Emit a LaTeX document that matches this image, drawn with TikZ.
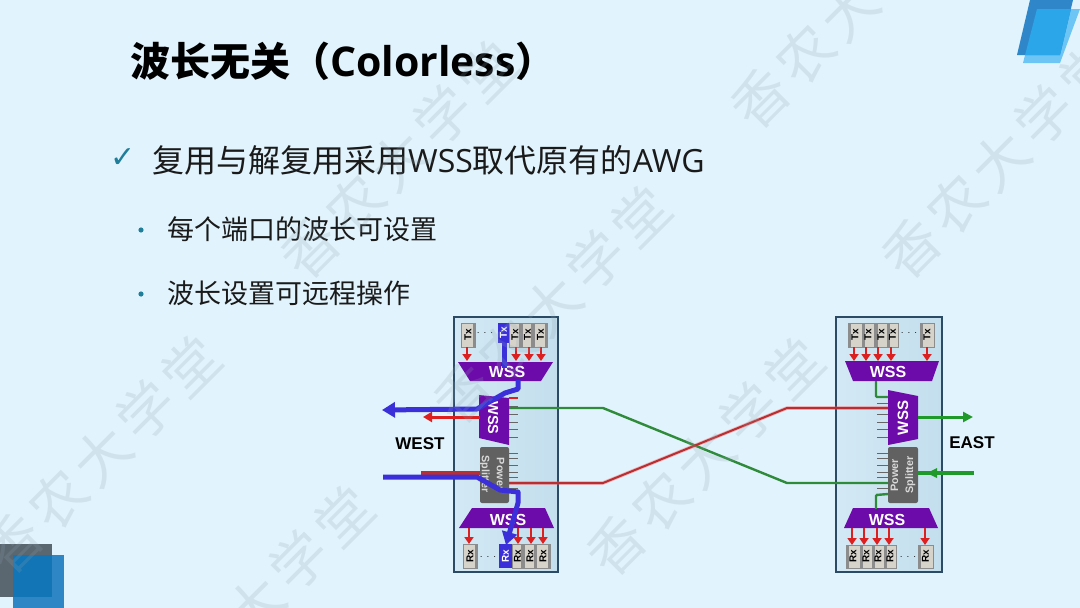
\documentclass[tikz,border=0pt]{standalone}
\usepackage{fontspec}
\usepackage{graphicx}
\usetikzlibrary{arrows.meta}
\setmainfont{Liberation Sans}
\newfontfamily\cjk{Noto Sans CJK SC}
\newfontfamily\wmf[LetterSpace=12]{Noto Sans CJK SC}
\newfontfamily\lat{Open Sans}
\newfontfamily\djv{DejaVu Sans}
\definecolor{bgc}{HTML}{E1F3FC}
\definecolor{ink}{HTML}{1A1A1A}
\definecolor{tealc}{HTML}{1F7F9B}
\definecolor{purp}{HTML}{6C0BA9}
\definecolor{blu}{HTML}{3A2FD8}
\definecolor{redc}{HTML}{DE1F1F}
\definecolor{wirer}{HTML}{B92E30}
\definecolor{wireg}{HTML}{2E8B3A}
\definecolor{arrg}{HTML}{1F9A2A}
\definecolor{panelb}{HTML}{2B4A66}
\definecolor{devc}{HTML}{D6D3CB}
\definecolor{cornerb}{HTML}{2E86C4}
\definecolor{cornerbb}{HTML}{1275B5}
\definecolor{cornerg}{HTML}{5A6670}
\definecolor{cornerl}{HTML}{6CC5F5}
\definecolor{cornerm}{HTML}{2F86C8}
\definecolor{cornern}{HTML}{2BA6E8}
\definecolor{panell}{HTML}{D3E9F5}
\definecolor{panelr}{HTML}{C3DEED}
\definecolor{wmc}{HTML}{8FA6B2}
\tikzset{
  wm/.style={font=\wmf\fontsize{56}{56}\selectfont,text=wmc,opacity=.2,rotate=45,inner sep=0},
  titlet/.style={anchor=west,inner sep=0,text=black},
  bodyt/.style={anchor=west,inner sep=0,text=ink},
  panel/.style={draw=panelb,line width=1.6pt,left color=panell,right color=panelr},
  wssfill/.style={fill=purp},
  wsst/.style={font=\bfseries\fontsize{16}{16}\selectfont,text=white,inner sep=0},
  splt/.style={fill=black!62,rounded corners=2pt},
  splitt/.style={font=\bfseries\fontsize{10.8}{15}\selectfont,text=black!15,align=center,inner sep=0},
  devbase/.style={draw=black!45,line width=.5pt,fill=devc,inner sep=0,font=\bfseries\fontsize{10}{10}\selectfont},
  dev/.style={devbase,path picture={\fill[black!45] (path picture bounding box.north east) rectangle ([xshift=-2.5pt]path picture bounding box.south east);}},
  devr/.style={devbase,path picture={\fill[black!45] (path picture bounding box.north west) rectangle ([xshift=2.5pt]path picture bounding box.south west);}},
  devb/.style={fill=blu,inner sep=0,text=white,font=\bfseries\fontsize{10}{10}\selectfont},
  dotst/.style={font=\bfseries\fontsize{10}{10}\selectfont,inner sep=0},
  redarr/.style={draw=redc,line width=2.2pt,-{Triangle[length=7pt,width=9pt]}},
  blueln/.style={draw=blu,line width=5pt,line join=round},
  comb/.style={draw=black!60,line width=1pt},
  wirered/.style={draw=wirer,line width=2pt,line join=round},
  wirehalo/.style={draw=red!70!white,line width=3.6pt,opacity=.35,line join=round},
  wiregreen/.style={draw=wireg,line width=2.4pt,line join=round},
  labt/.style={font=\bfseries\fontsize{17}{17}\selectfont,text=black,inner sep=0}
}
\newcommand{\devnode}[7]{% name x1 x2 y1 y2 label style
  \pgfmathsetmacro\cxx{(#2+#3)/2}\pgfmathsetmacro\cyy{(#4+#5)/2}
  \pgfmathsetmacro\www{#3-#2}\pgfmathsetmacro\hhh{#5-#4}
  \node[#7,minimum width=\www pt,minimum height=\hhh pt] (#1) at (\cxx,\cyy) {\rotatebox{90}{#6}};
}
\begin{document}
\begin{tikzpicture}[x=1pt,y=-1pt]
\useasboundingbox (0,0) rectangle (1080,608);
\fill[bgc] (0,0) rectangle (1080,608);
% corner art
\fill[cornerg] (0,544) rectangle (52,597);
\fill[cornerb] (13,555) rectangle (64,608);
\fill[cornerbb] (13,555) rectangle (52,597);
\fill[cornerl] (1023,63) -- (1060,63) -- (1080,9) -- (1037,9) -- cycle;
\fill[cornerm] (1017,55) -- (1030,0) -- (1073,0) -- (1060,55) -- cycle;
\begin{scope}
\clip (1017,55) -- (1030,0) -- (1073,0) -- (1060,55) -- cycle;
\fill[cornern] (1023,63) -- (1060,63) -- (1080,9) -- (1037,9) -- cycle;
\end{scope}
% texts
\node[titlet] (title) at (130,61) {\cjk\bfseries\fontsize{40}{40}\selectfont 波长无关（{\lat\fontsize{41}{41}\selectfont Colorless}）};
\node[inner sep=0,text=tealc] (chk) at (123,158) {\djv\fontsize{30}{30}\selectfont ✓};
\node[bodyt] (l1) at (152,160) {\cjk\fontsize{32}{32}\selectfont 复用与解复用采用{\lat WSS}取代原有的{\lat AWG}};
\fill[tealc] (141,230) circle (2.6pt);
\fill[tealc] (141,294) circle (2.6pt);
\node[bodyt] (l2) at (167,229) {\cjk\fontsize{27}{27}\selectfont 每个端口的波长可设置};
\node[bodyt] (l3) at (167,293) {\cjk\fontsize{27}{27}\selectfont 波长设置可远程操作};
% panels
\draw[panel] (454,317) rectangle (558,572);
\draw[panel] (836,317) rectangle (942,572);
% --- left panel devices
\devnode{ltx1}{461}{475}{323}{347}{Tx}{dev}
\devnode{ltx2}{498}{509}{323}{343}{Tx}{devb}
\devnode{ltx3}{509}{521}{323}{347}{Tx}{dev}
\devnode{ltx4}{522}{533}{323}{347}{Tx}{dev}
\devnode{ltx5}{534}{547}{323}{347}{Tx}{dev}
\node[dotst] (ld1) at (485,333) {$\cdot\,\cdot\,\cdot$};
\devnode{lrx1}{463}{477}{544}{568}{Rx}{dev}
\devnode{lrx2}{499}{512}{544}{568}{Rx}{devb}
\devnode{lrx3}{512}{523}{544}{568}{Rx}{dev}
\devnode{lrx4}{524}{536}{544}{568}{Rx}{dev}
\devnode{lrx5}{536}{550}{544}{568}{Rx}{dev}
\node[dotst] (ld2) at (488,557) {$\cdot\,\cdot\,\cdot$};
% --- left shapes
\fill[wssfill] (458,362) -- (553,362) -- (541,381) -- (470,381) -- cycle;
\fill[wssfill] (459,528) -- (472,508) -- (545,508) -- (554,528) -- cycle;
\fill[wssfill] (479,395) -- (509,398) -- (509,445) -- (479,438) -- cycle;
\fill[splt] (480,447) rectangle (509,503);
\node[wsst] (lw1) at (507,372) {WSS};
\node[wsst] (lw3) at (508,520) {WSS};
\node[wsst,rotate=-90,font=\bfseries\fontsize{14.5}{14.5}\selectfont] (lw2) at (493,418) {WSS};
\node[splitt,rotate=-90] (ls) at (492,474) {Power\\Splitter};
\foreach \y in {406,414,422,429,437,453,458,465,472,477,488} \draw[comb] (509,\y) -- (518,\y);
\draw[redc,line width=1.2pt] (509,398) -- (518,398);
\foreach \x in {467,516,529,541} \draw[redarr] (\x,347) -- (\x,361);
\foreach \x in {469,518,531,543} \draw[redarr] (\x,528) -- (\x,544);
% --- right panel devices
\devnode{rtx1}{848}{862}{323}{347}{Tx}{devr}
\devnode{rtx2}{862}{874}{323}{347}{Tx}{devr}
\devnode{rtx3}{875}{887}{323}{347}{Tx}{devr}
\devnode{rtx4}{887}{898}{323}{347}{Tx}{devr}
\devnode{rtx5}{920}{934}{323}{347}{Tx}{devr}
\node[dotst] (rd1) at (909,333) {$\cdot\,\cdot\,\cdot$};
\devnode{rrx1}{846}{860}{545}{568}{Rx}{devr}
\devnode{rrx2}{860}{872}{545}{568}{Rx}{devr}
\devnode{rrx3}{872}{884}{545}{568}{Rx}{devr}
\devnode{rrx4}{884}{896}{545}{568}{Rx}{devr}
\devnode{rrx5}{918}{933}{545}{568}{Rx}{devr}
\node[dotst] (rd2) at (908,557) {$\cdot\,\cdot\,\cdot$};
\fill[wssfill] (845,361) -- (939,361) -- (932,381) -- (853,381) -- cycle;
\fill[wssfill] (844,528) -- (853,508) -- (929,508) -- (938,528) -- cycle;
\fill[wssfill] (888,390) -- (918,396) -- (918,439) -- (888,445) -- cycle;
\fill[splt] (888,447) rectangle (918,503);
\node[wsst] (rw1) at (888,372) {WSS};
\node[wsst] (rw3) at (887,520) {WSS};
\node[wsst,rotate=90,font=\bfseries\fontsize{15}{15}\selectfont] (rw2) at (903,418) {WSS};
\node[splitt,rotate=90] (rs) at (903,475) {Power\\Splitter};
\foreach \y in {403,414,422,429,437,453,458,465,472,477,488} \draw[comb] (877,\y) -- (888,\y);
\foreach \x in {854,866,878,891,927} \draw[redarr] (\x,347) -- (\x,361);
\foreach \x in {852,864,877,889,925} \draw[redarr] (\x,528) -- (\x,545);
% --- connectors
\coordinate (gA) at (509,408); \coordinate (gB) at (603,408); \coordinate (gC) at (787,483); \coordinate (gD) at (888,483);
\coordinate (rA) at (509,483); \coordinate (rB) at (603,483); \coordinate (rC) at (787,408); \coordinate (rD) at (888,408);
\draw[wiregreen] (gA) -- (gB) -- (gC) -- (gD);
\draw[wirehalo] (rA) -- (rB) -- (rC) -- (rD);
\draw[wirered] (rA) -- (rB) -- (rC) -- (rD);
% left outer lines
\coordinate (lr1) at (480,417); \coordinate (lr2) at (423,417);
\draw[draw=redc,line width=3pt,-{Triangle[length=9pt,width=10pt]}] (lr1) -- (lr2);
\coordinate (lr3) at (421,473); \coordinate (lr4) at (480,473);
\draw[draw=wirer,line width=4pt] (lr3) -- (lr4);
\coordinate (b1) at (504,343); \coordinate (b2) at (504,368);
\draw[blueln] (b1) -- (b2);
\coordinate (b3) at (518,380); \coordinate (b4) at (518,389); \coordinate (b5) at (505,393); \coordinate (b6) at (477,409); \coordinate (b7) at (382,410);
\draw[blueln,-{Triangle[length=13pt,width=15pt]}] (b3) -- (b4) -- (b5) -- (b6) -- (b7);
\coordinate (c1) at (383,477); \coordinate (c2) at (477,477); \coordinate (c3) at (500,490); \coordinate (c4) at (518,492); \coordinate (c5) at (518,503); \coordinate (c6) at (506,545);
\draw[blueln,-{Triangle[length=13pt,width=15pt]}] (c1) -- (c2) -- (c3) -- (c4) -- (c5) -- (c6);
% right
\coordinate (ga1) at (918,417); \coordinate (ga2) at (973,417);
\draw[draw=arrg,line width=3pt,-{Triangle[length=10pt,width=10pt]}] (ga1) -- (ga2);
\coordinate (ga3) at (974,473); \coordinate (ga4) at (918,473);
\draw[draw=arrg,line width=3.6pt] (ga3) -- (ga4);
\fill[arrg] (927,473) -- (937,468) -- (937,478) -- cycle;
\coordinate (gw1) at (876,381); \coordinate (gw2) at (876,397); \coordinate (gw3) at (888,397);
\draw[draw=wireg,line width=2.4pt,rounded corners=1pt] (gw1) -- (gw2) -- (gw3);
\coordinate (gw4) at (888,494); \coordinate (gw5) at (876,495); \coordinate (gw6) at (876,509);
\draw[draw=wireg,line width=2.4pt,rounded corners=1pt] (gw4) -- (gw5) -- (gw6);
\node[labt] (west) at (420,444) {WEST};
\node[labt] (east) at (972,443) {EAST};
% watermark
\foreach \px/\py [count=\i] in {10/545,163/695,307/250,460/395,613/547,757/100,908/250}{
  \node[wm] (wm\i) at (\px+92,\py-90) {香农大学堂};
}
\end{tikzpicture}
\end{document}
